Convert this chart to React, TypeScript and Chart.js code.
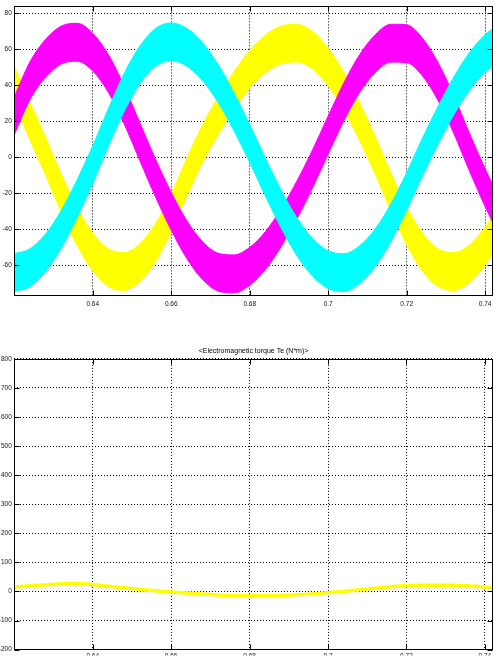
import React, { useEffect, useRef } from "react";
import { Chart, registerables } from "chart.js";

Chart.register(...registerables);

// ---------- data ----------
const times = [
  0.62, 0.624, 0.628, 0.632, 0.636, 0.64, 0.644, 0.648, 0.652, 0.656, 0.66,
  0.664, 0.668, 0.672, 0.676, 0.68, 0.684, 0.688, 0.692, 0.696, 0.7, 0.704,
  0.708, 0.712, 0.716, 0.72, 0.724, 0.728, 0.732, 0.736, 0.74, 0.742,
];

// phase currents: upper / lower edges of the noisy bands
const yellowUpper = [
  50.5, 30.5, 10.9, -9.5, -27.9, -42.1, -50.8, -52.9, -48, -36.8, -20.4, -0.5,
  18.1, 33.5, 47.5, 59.2, 67.8, 72.8, 73.8, 69.9, 60.5, 47.1, 30.2, 11.5, -8.9,
  -27.5, -42.1, -50.8, -52.9, -48.6, -38.8, -32.2,
];
const yellowLower = [
  29.5, 9.5, -10.1, -30.5, -48.9, -63.1, -71.8, -73.9, -69, -57.8, -41.4, -21.5,
  -2.9, 12.5, 26.5, 38.2, 46.8, 51.8, 52.8, 48.9, 39.5, 26.1, 9.2, -9.5, -29.9,
  -48.5, -63.1, -71.8, -73.9, -69.6, -59.8, -53.2,
];
const magentaUpper = [
  33.5, 53, 65.5, 72.8, 74.3, 68.8, 56.9, 39.5, 19.1, -1.1, -19.5, -35.3, -46.9,
  -53.3, -54.2, -50, -41.3, -28.6, -13.3, 4, 22.9, 41.3, 56.9, 68, 73.8, 73.5,
  66.2, 52.5, 34.3, 13.3, -6.4, -15.5,
];
const magentaLower = [
  12.5, 32, 44.5, 51.8, 53.3, 47.8, 35.9, 18.5, -1.9, -22.1, -40.5, -56.3, -67.9,
  -74.3, -75.2, -71, -62.3, -49.6, -34.3, -17, 1.9, 20.3, 35.9, 47, 52.8, 52.5,
  45.2, 31.5, 13.3, -7.7, -27.4, -36.5,
];
const cyanUpper = [
  -53.5, -50.8, -42.5, -29.4, -12.5, 6.4, 27.1, 46.4, 61.7, 71.5, 74.5, 71.5,
  63.5, 51.3, 35.7, 18.1, -0.5, -18.2, -33.5, -45, -51.9, -53.5, -49.1, -39.7,
  -25.8, -8.5, 10.5, 28.2, 44.5, 58.1, 68.1, 71.4,
];
const cyanLower = [
  -74.5, -71.8, -63.5, -50.4, -33.5, -14.6, 6.1, 25.4, 40.7, 50.5, 53.5, 50.5,
  42.5, 30.3, 14.7, -2.9, -21.5, -39.2, -54.5, -66, -72.9, -74.5, -70.1, -60.7,
  -46.8, -29.5, -10.5, 7.2, 23.5, 37.1, 47.1, 50.4,
];

// electromagnetic torque
const torqueTimes = [
  0.62, 0.628, 0.636, 0.644, 0.652, 0.66, 0.668, 0.676, 0.684, 0.692, 0.7,
  0.708, 0.716, 0.724, 0.732, 0.74, 0.742,
];
const torqueValues = [15, 23, 27, 18, 7, -2, -9, -14, -14, -11, -4, 6, 16, 21, 21, 15, 12];

// ticks
const xTicks = [0.64, 0.66, 0.68, 0.7, 0.72, 0.74];
const xTickLabels = ["0.64", "0.66", "0.68", "0.7", "0.72", "0.74"];
const currentTicks = [-60, -40, -20, 0, 20, 40, 60, 80];
const torqueTicks = [-200, -100, 0, 100, 200, 300, 400, 500, 600, 700, 800];
const torqueTitle = "<Electromagnetic torque Te (N*m)>";

// ---------- helpers ----------
const FONT = "'Liberation Sans', Arial, Helvetica, sans-serif";

const pts = (xs: number[], ys: number[]) => xs.map((x, i) => ({ x, y: ys[i] }));

const boxPlugin = {
  id: "matlabBox",
  afterDatasetsDraw(chart: any) {
    const { ctx, chartArea: a, scales } = chart;
    const L = Math.round(a.left) + 0.5;
    const R = Math.round(a.right) - 0.5;
    const T = Math.round(a.top) + 0.5;
    const B = Math.round(a.bottom) - 0.5;
    ctx.save();
    ctx.setLineDash([]);
    ctx.strokeStyle = "#000";
    ctx.lineWidth = 1;
    ctx.strokeRect(L, T, R - L, B - T);
    const tl = 5;
    ctx.beginPath();
    scales.x.ticks.forEach((t: any) => {
      const px = Math.round(scales.x.getPixelForValue(t.value)) + 0.5;
      ctx.moveTo(px, B);
      ctx.lineTo(px, B - tl);
      ctx.moveTo(px, T);
      ctx.lineTo(px, T + tl);
    });
    scales.y.ticks.forEach((t: any) => {
      const py = Math.round(scales.y.getPixelForValue(t.value)) + 0.5;
      ctx.moveTo(L, py);
      ctx.lineTo(L + tl, py);
      ctx.moveTo(R, py);
      ctx.lineTo(R - tl, py);
    });
    ctx.stroke();
    ctx.restore();
  },
};

const gridOpts = { color: "#000", lineWidth: 1, drawTicks: false };
const borderOpts = { display: false, dash: [1, 2] };

function xScale(height: number, pad: number) {
  return {
    type: "linear",
    min: 0.62,
    max: 0.742,
    afterBuildTicks: (s: any) => {
      s.ticks = xTicks.map((v) => ({ value: v }));
    },
    afterFit: (s: any) => {
      s.height = height;
    },
    ticks: {
      autoSkip: false,
      maxRotation: 0,
      padding: pad,
      color: "#111",
      font: { family: FONT, size: 6.5 },
      callback: (_v: any, i: number) => xTickLabels[i],
    },
    grid: gridOpts,
    border: borderOpts,
  };
}

function yScale(min: number, max: number, ticks: number[]) {
  return {
    type: "linear",
    min,
    max,
    afterBuildTicks: (s: any) => {
      s.ticks = ticks.map((v) => ({ value: v }));
    },
    afterFit: (s: any) => {
      s.width = 14.3;
    },
    ticks: {
      autoSkip: false,
      padding: 2.5,
      color: "#111",
      font: { family: FONT, size: 6.5 },
      callback: (v: any) => String(v),
    },
    grid: gridOpts,
    border: borderOpts,
  };
}

function band(upper: number[], lower: number[], color: string) {
  const common = {
    borderColor: color,
    backgroundColor: color,
    borderWidth: 1,
    pointRadius: 0,
    cubicInterpolationMode: "monotone",
  };
  return [
    { ...common, data: pts(times, upper), fill: "+1" },
    { ...common, data: pts(times, lower), fill: false },
  ];
}

export default function App() {
  const topRef = useRef<HTMLCanvasElement>(null);
  const botRef = useRef<HTMLCanvasElement>(null);

  useEffect(() => {
    const top = new Chart(topRef.current as HTMLCanvasElement, {
      type: "line",
      data: {
        datasets: [
          ...band(cyanUpper, cyanLower, "#00ffff"),
          ...band(magentaUpper, magentaLower, "#ff00ff"),
          ...band(yellowUpper, yellowLower, "#ffff00"),
        ] as any,
      },
      options: {
        animation: false,
        responsive: false,
        devicePixelRatio: 1,
        layout: { padding: { left: 0, right: 6, top: 5.5, bottom: 0 } },
        plugins: { legend: { display: false }, tooltip: { enabled: false } },
        scales: {
          x: xScale(24, 4) as any,
          y: yScale(-77, 83.7, currentTicks) as any,
        },
      },
      plugins: [boxPlugin],
    });

    const bot = new Chart(botRef.current as HTMLCanvasElement, {
      type: "line",
      data: {
        datasets: [
          {
            data: pts(torqueTimes, torqueValues),
            borderColor: "#ffff00",
            borderWidth: 3.5,
            pointRadius: 0,
            cubicInterpolationMode: "monotone",
            fill: false,
          },
        ] as any,
      },
      options: {
        animation: false,
        responsive: false,
        devicePixelRatio: 1,
        layout: { padding: { left: 0, right: 6.3, top: 0, bottom: 0 } },
        plugins: {
          legend: { display: false },
          tooltip: { enabled: false },
          title: {
            display: true,
            text: torqueTitle,
            fullSize: false,
            color: "#000",
            font: { family: FONT, size: 7, weight: "normal" },
            padding: { top: 26.5, bottom: 4 },
          },
        },
        scales: {
          x: xScale(6, 3) as any,
          y: yScale(-200, 800, torqueTicks) as any,
        },
      },
      plugins: [boxPlugin],
    });

    return () => {
      top.destroy();
      bot.destroy();
    };
  }, []);

  return (
    <div
      style={{
        position: "absolute",
        left: 0,
        top: 0,
        width: 499,
        height: 656,
        background: "#fff",
        overflow: "hidden",
      }}
    >
      <canvas
        ref={topRef}
        width={499}
        height={320}
        style={{ position: "absolute", left: 0, top: 0, width: 499, height: 320 }}
      />
      <canvas
        ref={botRef}
        width={499}
        height={336}
        style={{ position: "absolute", left: 0, top: 320, width: 499, height: 336 }}
      />
    </div>
  );
}
